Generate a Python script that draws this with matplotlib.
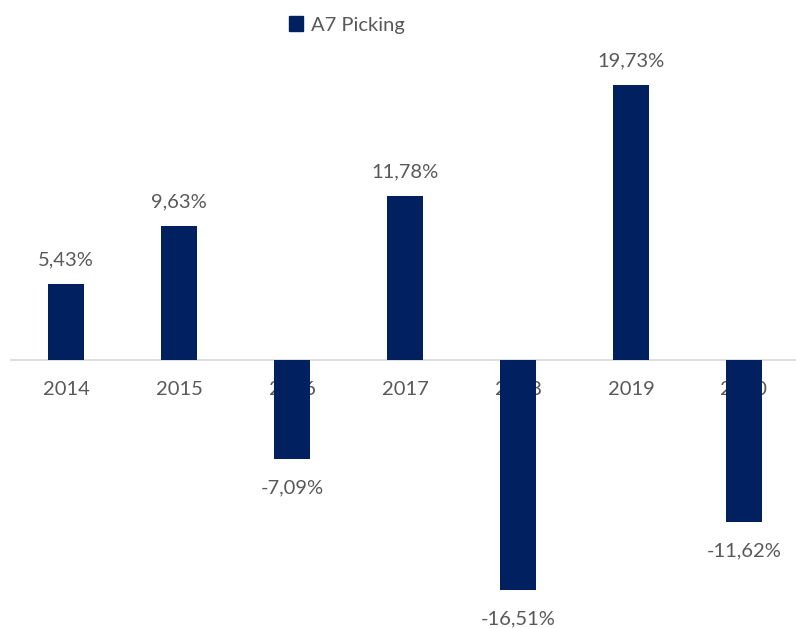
import matplotlib.pyplot as plt
from matplotlib.patches import Patch

years = ["2014", "2015", "2016", "2017", "2018", "2019", "2020"]
values = [5.43, 9.63, -7.09, 11.78, -16.51, 19.73, -11.62]
labels = ["5,43%", "9,63%", "-7,09%", "11,78%", "-16,51%", "19,73%", "-11,62%"]

bar_color = "#002060"
text_color = "#595959"
plt.rcParams['font.family'] = ['Lato', 'DejaVu Sans']

fig = plt.figure(figsize=(7.96, 6.28), dpi=100)
# zero line at y=360px, about 13.93 px per percent
ax = fig.add_axes([9.5/796, 0, 791/796, 1 - 40/628])
ax.set_ylim(-(628 - 360) / 13.93, (360 - 40) / 13.93)
ax.set_xlim(-0.5, len(years) - 0.5)

x = range(len(years))
ax.bar(x, values, width=0.31, color=bar_color, zorder=2)
ax.axhline(0, color="#d9d9d9", lw=1.2, zorder=1)

for i, (v, lab) in enumerate(zip(values, labels)):
    ax.annotate(years[i], (i, 0), xytext=(0, -21), textcoords="offset points",
                ha="center", va="center", fontsize=14.5, color=text_color, zorder=0)
    off = 17.5 if v > 0 else -21
    ax.annotate(lab, (i, v), xytext=(0, off), textcoords="offset points",
                ha="center", va="center", fontsize=14.5, color=text_color, zorder=3)

for s in ax.spines.values():
    s.set_visible(False)
ax.set_xticks([])
ax.set_yticks([])

fig.legend(handles=[Patch(color=bar_color)], labels=["A7 Picking"],
           loc="center", bbox_to_anchor=(347/796, 1 - 25/628), frameon=False,
           fontsize=14.5, labelcolor=text_color, handlelength=0.7, handleheight=0.7,
           handletextpad=0.4)

fig.savefig("out.png", dpi=100)
